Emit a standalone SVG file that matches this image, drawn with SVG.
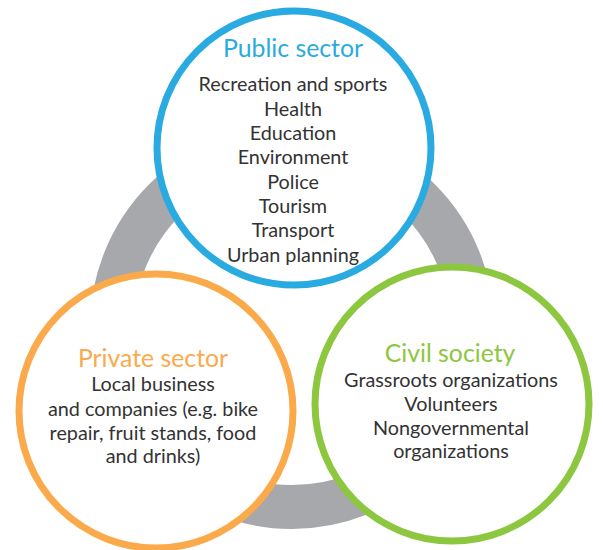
<svg xmlns="http://www.w3.org/2000/svg" width="603" height="550" viewBox="0 0 603 550">
<style>
.ring{fill:none;stroke:#a7a8ab;stroke-width:44}
.c{fill:#fff;stroke-width:7}
text{font-family:Lato,"Liberation Sans",sans-serif;text-anchor:middle}
.t{font-size:24.8px}
.b{font-size:19.8px;fill:#333}
</style>
<rect width="603" height="550" fill="#fff"/>
<g id="connectors">
<circle class="ring" cx="292" cy="327" r="180"/>
</g>
<g id="public">
<circle class="c" cx="294" cy="148" r="137" stroke="#29abe2"/>
<text class="t" x="293" y="57" fill="#29abe2">Public sector</text>
<text class="b" x="293" y="91">Recreation and sports</text>
<text class="b" x="293" y="115.5">Health</text>
<text class="b" x="293" y="140">Education</text>
<text class="b" x="293" y="164">Environment</text>
<text class="b" x="293" y="188.5">Police</text>
<text class="b" x="293" y="213">Tourism</text>
<text class="b" x="293" y="237">Transport</text>
<text class="b" x="293" y="261.5">Urban planning</text>
</g>
<g id="private">
<circle class="c" cx="156" cy="411" r="137" stroke="#fbaa4b"/>
<text class="t" x="153" y="367" fill="#fbaa4b">Private sector</text>
<text class="b" x="153" y="391">Local business</text>
<text class="b" x="153" y="416">and companies (e.g. bike</text>
<text class="b" x="153" y="440">repair, fruit stands, food</text>
<text class="b" x="153" y="463">and drinks)</text>
</g>
<g id="civil">
<circle class="c" cx="452" cy="404" r="137" stroke="#8dc63f"/>
<text class="t" x="450" y="362" fill="#8dc63f">Civil society</text>
<text class="b" x="451" y="387">Grassroots organizations</text>
<text class="b" x="451" y="411">Volunteers</text>
<text class="b" x="451" y="435">Nongovernmental</text>
<text class="b" x="451" y="458">organizations</text>
</g>
</svg>
